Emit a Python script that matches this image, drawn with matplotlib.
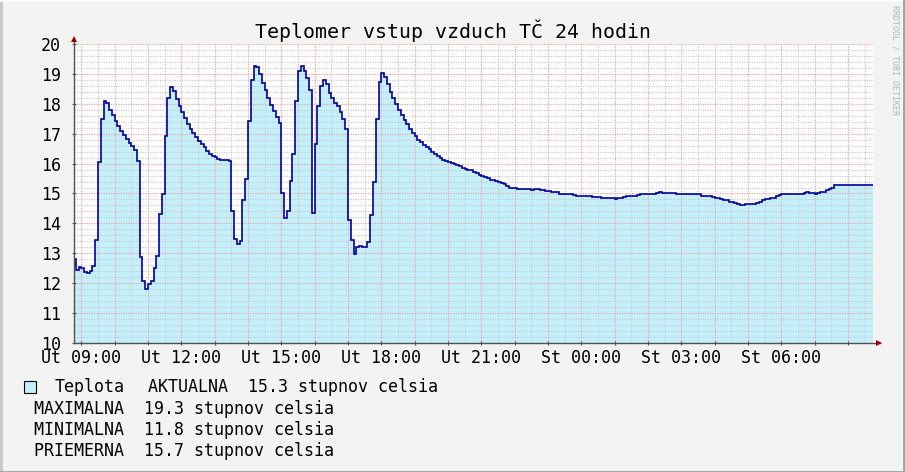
import numpy as np
import pandas as pd
import matplotlib
matplotlib.use("Agg")
import matplotlib.pyplot as plt
import matplotlib.dates as mdates
from matplotlib.lines import Line2D
from matplotlib.patches import Rectangle

# 5-minute samples, Ut 08:45 -> St 08:45
temps = [
    12.8, 12.45, 12.55, 12.52, 12.39, 12.33, 12.42, 12.59, 13.43, 16.06,
    17.5, 18.08, 18.02, 17.79, 17.62, 17.44, 17.26, 17.09, 16.96, 16.82,
    16.70, 16.58, 16.44, 16.09, 12.89, 12.08, 11.82, 11.97, 12.09, 12.51,
    12.92, 14.32, 14.99, 16.93, 18.2, 18.56, 18.43, 18.16, 17.91, 17.72,
    17.52, 17.32, 17.17, 17.02, 16.88, 16.74, 16.66, 16.56, 16.42, 16.32,
    16.27, 16.21, 16.17, 16.12, 16.12, 16.11, 16.08, 14.4, 13.49, 13.32,
    13.42, 14.77, 15.49, 17.41, 18.8, 19.28, 19.22, 18.99, 18.69, 18.46,
    18.19, 17.96, 17.76, 17.57, 17.36, 15.03, 14.19, 14.4, 15.41, 16.33,
    18.09, 19.1, 19.28, 19.1, 18.86, 18.47, 14.36, 16.66, 17.92, 18.59,
    18.79, 18.66, 18.36, 18.21, 18.02, 17.91, 17.72, 17.49, 17.16, 14.1,
    13.43, 12.99, 13.22, 13.26, 13.22, 13.22, 13.39, 14.29, 15.39, 17.49,
    18.72, 19.02, 18.88, 18.66, 18.41, 18.19, 17.99, 17.79, 17.62, 17.46,
    17.33, 17.17, 17.02, 16.93, 16.8, 16.71, 16.61, 16.56, 16.5, 16.38,
    16.31, 16.24, 16.19, 16.13, 16.08, 16.04, 16.01, 15.98, 15.94, 15.91,
    15.86, 15.82, 15.8, 15.78, 15.71, 15.68, 15.63, 15.6, 15.56, 15.51,
    15.44, 15.44, 15.42, 15.39, 15.36, 15.31, 15.24, 15.2, 15.19, 15.17,
    15.16, 15.16, 15.16, 15.16, 15.16, 15.12, 15.16, 15.16, 15.12, 15.12,
    15.09, 15.09, 15.06, 15.06, 15.06, 14.99, 14.99, 14.99, 14.99, 14.99,
    14.96, 14.92, 14.92, 14.92, 14.92, 14.92, 14.92, 14.89, 14.89, 14.89,
    14.86, 14.86, 14.86, 14.86, 14.86, 14.82, 14.86, 14.86, 14.89, 14.92,
    14.92, 14.92, 14.92, 14.96, 14.99, 14.99, 14.99, 14.99, 14.99, 14.99,
    15.02, 15.06, 15.02, 15.02, 15.02, 15.02, 15.02, 14.99, 14.99, 14.99,
    14.99, 14.99, 14.99, 14.99, 14.99, 14.99, 14.92, 14.92, 14.92, 14.92,
    14.89, 14.84, 14.84, 14.81, 14.77, 14.77, 14.72, 14.72, 14.68, 14.64,
    14.62, 14.62, 14.64, 14.66, 14.66, 14.66, 14.69, 14.73, 14.78, 14.82,
    14.82, 14.86, 14.86, 14.92, 14.96, 14.99, 14.99, 14.99, 14.99, 14.99,
    14.99, 14.99, 14.99, 15.02, 15.06, 15.02, 15.02, 14.99, 15.02, 15.06,
    15.06, 15.12, 15.16, 15.2, 15.27, 15.27, 15.27, 15.3, 15.3, 15.3,
    15.3, 15.3, 15.3, 15.3, 15.3, 15.3, 15.3, 15.3,
]
x_labels = ["Ut 09:00", "Ut 12:00", "Ut 15:00", "Ut 18:00",
            "Ut 21:00", "St 00:00", "St 03:00", "St 06:00"]
y_ticks = [10, 11, 12, 13, 14, 15, 16, 17, 18, 19, 20]
title = "Teplomer vstup vzduch TČ 24 hodin"
series_name = "Teplota"
legend_rows = ["AKTUALNA  15.3 stupnov celsia",
               "MAXIMALNA  19.3 stupnov celsia",
               "MINIMALNA  11.8 stupnov celsia",
               "PRIEMERNA  15.7 stupnov celsia"]

edges = pd.date_range("2024-01-02 08:45", periods=len(temps) + 1, freq="5min")
edges_num = mdates.date2num(edges)
ticks_1h = mdates.date2num(pd.date_range("2024-01-02 09:00", periods=24, freq="1h"))
ticks_30m = mdates.date2num(pd.date_range("2024-01-02 09:30", periods=47, freq="30min"))
x0 = mdates.date2num(pd.Timestamp("2024-01-02 08:46:48"))
x1 = mdates.date2num(pd.Timestamp("2024-01-03 08:46:48"))

mono = "DejaVu Sans Mono"
bg = "#f3f3f3"
fill_c = "#c4f0fc"
line_c = "#00009c"

fig = plt.figure(figsize=(9.05, 4.72), dpi=100, facecolor=bg)
W, H = 905, 472
def fx(px): return px / W
def fy(py): return 1 - py / H

ax = fig.add_axes([fx(74), fy(343), fx(800), 299 / H])
ax.set_facecolor("white")

ax.stairs(temps, edges_num, baseline=10, fill=True, color=fill_c, zorder=1)
ax.stairs(temps, edges_num, baseline=None, color=line_c, lw=1.2, zorder=4)

# grid
ax.set_xticks(ticks_1h)
ax.set_xticks(ticks_30m, minor=True)
ax.set_yticks(y_ticks)
ax.set_yticks(np.arange(10, 20.01, 0.2), minor=True)
lab = []
for i in range(len(ticks_1h)):
    lab.append(x_labels[i // 3] if i % 3 == 0 else "")
ax.set_xticklabels(lab)
ax.set_yticklabels([str(v) for v in y_ticks])
ax.set_xlim(x0, x1)
ax.set_ylim(10, 20)
ax.set_axisbelow(False)
ax.grid(which="minor", color="#c8c8c8", lw=0.8, linestyle=(0, (1, 1.2)), zorder=2)
ax.grid(which="major", color="#f29a9a", lw=0.8, linestyle=(0, (1, 1.2)), zorder=3)

ax.tick_params(which="major", length=3, width=0.8, color="#555555",
               direction="inout", labelsize=12, pad=3)
ax.tick_params(which="minor", length=0)
for t in ax.get_xticklabels() + ax.get_yticklabels():
    t.set_fontfamily(mono)
ax.tick_params(axis="y", pad=8)

for s in ax.spines.values():
    s.set_visible(False)

# axes with arrows
axis_c = "#505050"
fig.add_artist(Line2D([fx(74), fx(74)], [fy(343), fy(38)], color=axis_c, lw=1))
fig.add_artist(Line2D([fx(74), fx(880)], [fy(343), fy(343)], color=axis_c, lw=1))
fig.add_artist(Line2D([fx(74)], [fy(39)], marker="^", ms=4, color="#a00000", mew=0))
fig.add_artist(Line2D([fx(879)], [fy(343)], marker=">", ms=4, color="#a00000", mew=0))

# title
fig.text(0.5, fy(31), title, ha="center", va="center", fontsize=14.3, family=mono)
fig.text(fx(895), fy(5), "RRDTOOL / TOBI OETIKER", rotation=270, ha="center", va="top",
         fontsize=6, family=mono, color="#b4b4b4")

# legend
fig.add_artist(Rectangle((fx(24), fy(393)), fx(12), 12 / H, facecolor=fill_c,
                         edgecolor="black", lw=0.8))
fig.text(fx(55), fy(387), series_name, ha="left", va="center", fontsize=12, family=mono)
fig.text(fx(148), fy(387), legend_rows[0], ha="left", va="center", fontsize=12, family=mono)
for i, row in enumerate(legend_rows[1:]):
    fig.text(fx(34), fy(409 + 21 * i), row, ha="left", va="center", fontsize=12, family=mono)

# frame shading
fig.add_artist(Line2D([0.001, 0.001], [0, 1], color="#c8c8c8", lw=2))
fig.add_artist(Line2D([0, 1], [0.999, 0.999], color="#fcfcfc", lw=2))
fig.add_artist(Line2D([0.999, 0.999], [0, 1], color="#9e9e9e", lw=2))
fig.add_artist(Line2D([0, 1], [0.001, 0.001], color="#9e9e9e", lw=2))

fig.savefig("out.png", dpi=100, facecolor=bg)
